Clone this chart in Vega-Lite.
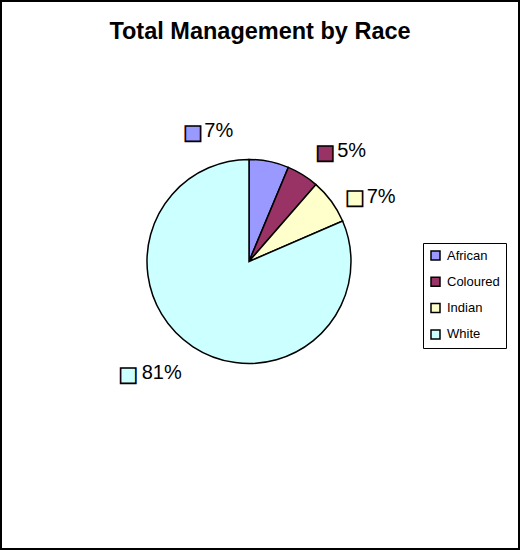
{
  "$schema": "https://vega.github.io/schema/vega-lite/v6.json",
  "autosize": {"type": "fit", "contains": "padding"},
  "width": 520,
  "height": 550,
  "padding": 0,
  "background": "white",
  "title": {
    "text": "Total Management by Race",
    "font": "Liberation Sans",
    "fontSize": 23.5,
    "fontWeight": "bold",
    "color": "black",
    "anchor": "middle",
    "frame": "group",
    "baseline": "alphabetic",
    "offset": -62
  },
  "data": {
    "values": [
      {"race": "African", "value": 6.3, "label": "7%"},
      {"race": "Coloured", "value": 5.1, "label": "5%"},
      {"race": "Indian", "value": 7.1, "label": "7%"},
      {"race": "White", "value": 81.5, "label": "81%"}
    ]
  },
  "layer": [
    {
      "data": {"values": [{}]},
      "mark": {"type": "rect", "fill": null, "fillOpacity": 0, "stroke": "black", "strokeWidth": 2},
      "encoding": {}
    },
    {
      "mark": {"type": "arc", "outerRadius": 102, "stroke": "black", "strokeWidth": 1.5, "x": {"expr": "width/2 - 11"}, "y": {"expr": "height/2 - 13.5"}},
      "encoding": {
        "theta": {"field": "value", "type": "quantitative", "stack": true},
        "order": {"field": "race", "type": "ordinal", "sort": "ascending"},
        "color": {
          "field": "race", "type": "nominal",
          "scale": {"domain": ["African", "Coloured", "Indian", "White"], "range": ["#9999FF", "#993366", "#FFFFCC", "#CCFFFF"]},
          "legend": {"title": null}
        }
      }
    },
    {
      "mark": {"type": "text", "font": "DejaVu Sans", "fontSize": 20, "stroke": "black", "strokeWidth": 1.6, "align": "center", "baseline": "middle", "radius": 130, "dx": -81.5, "dy": -1.3, "x": {"expr": "width/2 - 11"}, "y": {"expr": "height/2 - 13.5"}},
      "encoding": {
        "theta": {"field": "value", "type": "quantitative", "stack": true},
        "order": {"field": "race", "type": "ordinal", "sort": "ascending"},
        "color": {"field": "race", "type": "nominal"},
        "text": {"condition": {"test": "datum.race === 'African'", "value": "■"}, "value": ""}
      }
    },
    {
      "mark": {"type": "text", "font": "DejaVu Sans", "fontSize": 20, "stroke": "black", "strokeWidth": 1.6, "align": "center", "baseline": "middle", "radius": 130, "dx": 7.6, "dy": 2.2, "x": {"expr": "width/2 - 11"}, "y": {"expr": "height/2 - 13.5"}},
      "encoding": {
        "theta": {"field": "value", "type": "quantitative", "stack": true},
        "order": {"field": "race", "type": "ordinal", "sort": "ascending"},
        "color": {"field": "race", "type": "nominal"},
        "text": {"condition": {"test": "datum.race === 'Coloured'", "value": "■"}, "value": ""}
      }
    },
    {
      "mark": {"type": "text", "font": "DejaVu Sans", "fontSize": 20, "stroke": "black", "strokeWidth": 1.6, "align": "center", "baseline": "middle", "radius": 130, "dx": 1.1, "dy": 13.6, "x": {"expr": "width/2 - 11"}, "y": {"expr": "height/2 - 13.5"}},
      "encoding": {
        "theta": {"field": "value", "type": "quantitative", "stack": true},
        "order": {"field": "race", "type": "ordinal", "sort": "ascending"},
        "color": {"field": "race", "type": "nominal"},
        "text": {"condition": {"test": "datum.race === 'Indian'", "value": "■"}, "value": ""}
      }
    },
    {
      "mark": {"type": "text", "font": "DejaVu Sans", "fontSize": 20, "stroke": "black", "strokeWidth": 1.6, "align": "center", "baseline": "middle", "radius": 130, "dx": -49.3, "dy": 4.9, "x": {"expr": "width/2 - 11"}, "y": {"expr": "height/2 - 13.5"}},
      "encoding": {
        "theta": {"field": "value", "type": "quantitative", "stack": true},
        "order": {"field": "race", "type": "ordinal", "sort": "ascending"},
        "color": {"field": "race", "type": "nominal"},
        "text": {"condition": {"test": "datum.race === 'White'", "value": "■"}, "value": ""}
      }
    },
    {
      "mark": {"type": "text", "font": "Liberation Sans", "fontSize": 20, "color": "black", "align": "left", "baseline": "middle", "radius": 130, "dx": -70.2, "dy": -2.8, "x": {"expr": "width/2 - 11"}, "y": {"expr": "height/2 - 13.5"}},
      "encoding": {
        "theta": {"field": "value", "type": "quantitative", "stack": true},
        "order": {"field": "race", "type": "ordinal", "sort": "ascending"},
        "detail": {"field": "race", "type": "nominal"},
        "text": {"condition": {"test": "datum.race === 'African'", "field": "label"}, "value": ""}
      }
    },
    {
      "mark": {"type": "text", "font": "Liberation Sans", "fontSize": 20, "color": "black", "align": "left", "baseline": "middle", "radius": 130, "dx": 19.6, "dy": 0.4, "x": {"expr": "width/2 - 11"}, "y": {"expr": "height/2 - 13.5"}},
      "encoding": {
        "theta": {"field": "value", "type": "quantitative", "stack": true},
        "order": {"field": "race", "type": "ordinal", "sort": "ascending"},
        "detail": {"field": "race", "type": "nominal"},
        "text": {"condition": {"test": "datum.race === 'Coloured'", "field": "label"}, "value": ""}
      }
    },
    {
      "mark": {"type": "text", "font": "Liberation Sans", "fontSize": 20, "color": "black", "align": "left", "baseline": "middle", "radius": 130, "dx": 12.8, "dy": 11.8, "x": {"expr": "width/2 - 11"}, "y": {"expr": "height/2 - 13.5"}},
      "encoding": {
        "theta": {"field": "value", "type": "quantitative", "stack": true},
        "order": {"field": "race", "type": "ordinal", "sort": "ascending"},
        "detail": {"field": "race", "type": "nominal"},
        "text": {"condition": {"test": "datum.race === 'Indian'", "field": "label"}, "value": ""}
      }
    },
    {
      "mark": {"type": "text", "font": "Liberation Sans", "fontSize": 20, "color": "black", "align": "left", "baseline": "middle", "radius": 130, "dx": -35.9, "dy": 2.4, "x": {"expr": "width/2 - 11"}, "y": {"expr": "height/2 - 13.5"}},
      "encoding": {
        "theta": {"field": "value", "type": "quantitative", "stack": true},
        "order": {"field": "race", "type": "ordinal", "sort": "ascending"},
        "detail": {"field": "race", "type": "nominal"},
        "text": {"condition": {"test": "datum.race === 'White'", "field": "label"}, "value": ""}
      }
    }
  ],
  "config": {
    "view": {"stroke": "black", "strokeWidth": 2},
    "legend": {
      "orient": "none",
      "legendX": 422,
      "legendY": 242,
      "strokeColor": "black",
      "fillColor": "white",
      "padding": 6,
      "symbolType": "square",
      "symbolSize": 81,
      "symbolStrokeColor": "black",
      "symbolStrokeWidth": 1.5,
      "labelFont": "Liberation Sans",
      "labelFontSize": 13,
      "labelColor": "black",
      "labelOffset": 5,
      "rowPadding": 11.3
    }
  }
}
